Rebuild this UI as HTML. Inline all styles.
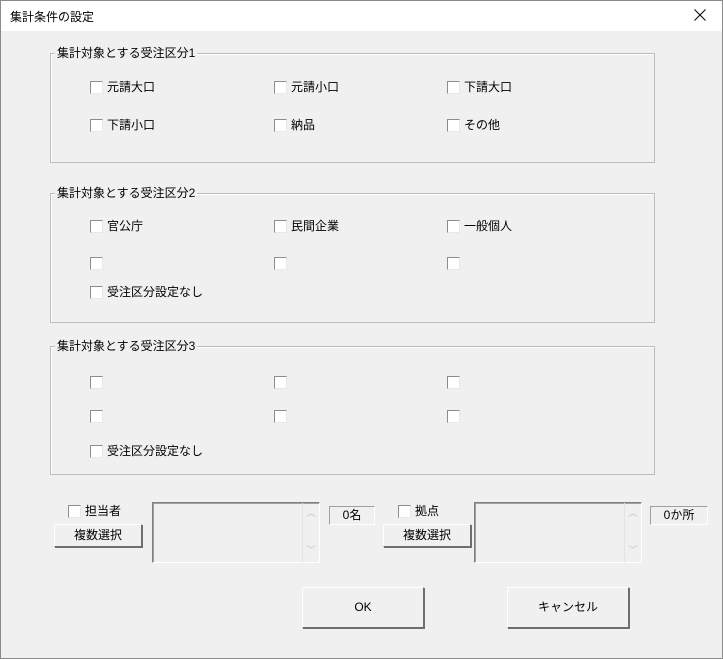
<!DOCTYPE html>
<html><head><meta charset="utf-8"><style>
*{margin:0;padding:0;box-sizing:border-box}
body{width:723px;height:659px;background:#f0f0f0;font-family:"Liberation Sans","Noto Sans CJK JP",sans-serif;font-size:12px;color:#000;position:relative;overflow:hidden}
.win{position:absolute;left:0;top:0;width:723px;height:659px;border:1px solid #8a8a8a}
.title{position:absolute;left:1px;top:1px;width:721px;height:30px;background:#fff}
.a{position:absolute;white-space:nowrap}
.grp{position:absolute;border:1px solid #bcbcbc;box-shadow:inset 1px 1px 0 #fff}
.gl{position:absolute;background:#f0f0f0;padding:0 2px;top:-9px;left:4px;font-size:12px;line-height:16px}
.cb{position:absolute;width:13px;height:13px;background:#fff;border:1px solid;border-color:#8c8c8c #e8e8e8 #e8e8e8 #8c8c8c}
.lbl{position:absolute;line-height:14px}
.btn{position:absolute;background:#f0f0f0;border:1px solid;border-color:#fff #6e6e6e #6e6e6e #fff;box-shadow:1px 1px 0 #6e6e6e;text-align:center}
.lst{position:absolute;border:1px solid;border-color:#808080 #fff #fff #808080;box-shadow:inset 1px 1px 0 #a0a0a0}
.sb{position:absolute;right:0;top:0;bottom:0;width:17px;border-left:1px solid #e3e3e3;color:#c0c0c0;font-size:9px;text-align:center}
.st{position:absolute;border:1px solid;border-color:#a0a0a0 #fff #fff #a0a0a0;text-align:center;line-height:17px}
</style></head><body>
<div class="win"></div>
<div class="title"></div>
<div class="a" style="left:10px;top:8px;font-size:12px">集計条件の設定</div>
<svg class="a" style="left:694px;top:9px" width="12" height="12"><path d="M0.5 0.5L11.5 11.5M11.5 0.5L0.5 11.5" stroke="#000" stroke-width="1"/></svg>

<div class="grp" style="left:50px;top:53px;width:605px;height:110px"><div class="gl">集計対象とする受注区分1</div></div>
<div class="grp" style="left:50px;top:193px;width:605px;height:130px"><div class="gl">集計対象とする受注区分2</div></div>
<div class="grp" style="left:50px;top:346px;width:605px;height:129px"><div class="gl">集計対象とする受注区分3</div></div>

<div class="cb" style="left:90px;top:81px"></div><div class="lbl" style="left:107px;top:80px">元請大口</div>
<div class="cb" style="left:274px;top:81px"></div><div class="lbl" style="left:291px;top:80px">元請小口</div>
<div class="cb" style="left:447px;top:81px"></div><div class="lbl" style="left:464px;top:80px">下請大口</div>
<div class="cb" style="left:90px;top:119px"></div><div class="lbl" style="left:107px;top:118px">下請小口</div>
<div class="cb" style="left:274px;top:119px"></div><div class="lbl" style="left:291px;top:118px">納品</div>
<div class="cb" style="left:447px;top:119px"></div><div class="lbl" style="left:464px;top:118px">その他</div>

<div class="cb" style="left:90px;top:220px"></div><div class="lbl" style="left:107px;top:219px">官公庁</div>
<div class="cb" style="left:274px;top:220px"></div><div class="lbl" style="left:291px;top:219px">民間企業</div>
<div class="cb" style="left:447px;top:220px"></div><div class="lbl" style="left:464px;top:219px">一般個人</div>
<div class="cb" style="left:90px;top:257px"></div>
<div class="cb" style="left:274px;top:257px"></div>
<div class="cb" style="left:447px;top:257px"></div>
<div class="cb" style="left:90px;top:286px"></div><div class="lbl" style="left:107px;top:285px">受注区分設定なし</div>

<div class="cb" style="left:90px;top:376px"></div>
<div class="cb" style="left:274px;top:376px"></div>
<div class="cb" style="left:447px;top:376px"></div>
<div class="cb" style="left:90px;top:410px"></div>
<div class="cb" style="left:274px;top:410px"></div>
<div class="cb" style="left:447px;top:410px"></div>
<div class="cb" style="left:90px;top:445px"></div><div class="lbl" style="left:107px;top:444px">受注区分設定なし</div>

<div class="cb" style="left:68px;top:505px"></div><div class="lbl" style="left:85px;top:504px">担当者</div>
<div class="btn" style="left:54px;top:524px;width:88px;height:23px;line-height:21px">複数選択</div>
<div class="lst" style="left:152px;top:502px;width:168px;height:61px"><div class="sb"><div style="margin-top:3px">︿</div><div style="margin-top:24px">﹀</div></div></div>
<div class="st" style="left:329px;top:506px;width:46px;height:19px">0名</div>

<div class="cb" style="left:398px;top:505px"></div><div class="lbl" style="left:415px;top:504px">拠点</div>
<div class="btn" style="left:383px;top:524px;width:88px;height:23px;line-height:21px">複数選択</div>
<div class="lst" style="left:474px;top:502px;width:168px;height:61px"><div class="sb"><div style="margin-top:3px">︿</div><div style="margin-top:24px">﹀</div></div></div>
<div class="st" style="left:650px;top:506px;width:58px;height:19px">0か所</div>

<div class="btn" style="left:302px;top:587px;width:122px;height:41px;line-height:39px">OK</div>
<div class="btn" style="left:507px;top:587px;width:122px;height:41px;line-height:39px">キャンセル</div>
</body></html>
